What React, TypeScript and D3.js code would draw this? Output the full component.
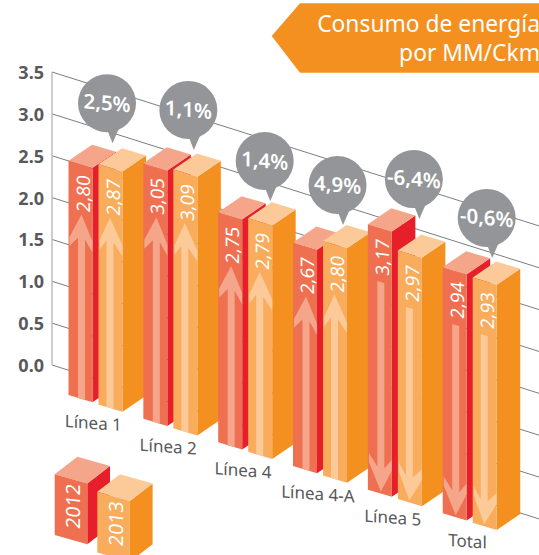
import React from 'react';
import * as d3 from 'd3';

const categories = ['Línea 1', 'Línea 2', 'Línea 4', 'Línea 4-A', 'Línea 5', 'Total'];
const values2012 = [2.8, 3.05, 2.75, 2.67, 3.17, 2.94];
const values2013 = [2.87, 3.09, 2.79, 2.8, 2.97, 2.93];
const changes = ['2,5%', '1,1%', '1,4%', '4,9%', '-6,4%', '-0,6%'];
const tickValues = [0, 0.5, 1, 1.5, 2, 2.5, 3, 3.5];
const years = ['2012', '2013'];

// small hand nudges so the callouts sit where the original has them
const bubbleDx = [-6.5, 0, 1.5, -0.5, 1, -1];
const bubbleDy = [0, 1.4, 3.7, 5, -10.4, 1.4];

const width = 539;
const height = 555;
const slope = 0.316; // the floor runs downhill to the right
const faceWidth = 24;
const faceSkew = 0.3;
const textSkew = 0.12;
const side = { dx: 23.5, dy: -16 };

const palette = [
  { front: '#ee7051', top: '#f4a58a', side: '#e61f2b', arrowX: 13 },
  { front: '#f8ac5c', top: '#fbca98', side: '#f39020', arrowX: 11.5 },
];
const textGrey = '#58595b';
const font = '"Noto Sans", sans-serif';

const xGroup = d3.scalePoint<string>().domain(categories).range([68.5, 442.7]);
const xSeries = d3.scalePoint<string>().domain(years).range([0, 30]);
const yAxis = d3.scaleLinear().domain([0, 3.5]).range([365, 72]);
const barHeight = (v: number) => yAxis(0) - yAxis(v);
const floorY = (x: number) => 373.4 + slope * x;

const poly = d3.line();

type BoxProps = {
  x: number;
  bottom: number;
  h: number;
  w: number;
  skew: number;
  sx: number;
  sy: number;
  colors: (typeof palette)[number];
};

function Box({ x, bottom, h, w, skew, sx, sy, colors }: BoxProps) {
  const t = bottom - h;
  const dy = w * skew;
  return (
    <g>
      <path
        fill={colors.side}
        d={poly([[x + w, t + dy], [x + w + sx, t + dy + sy], [x + w + sx, bottom + dy + sy], [x + w, bottom + dy]]) + 'Z'}
      />
      <path
        fill={colors.top}
        d={poly([[x, t], [x + w, t + dy], [x + w + sx, t + dy + sy], [x + sx, t + sy]]) + 'Z'}
      />
      <path
        fill={colors.front}
        d={poly([[x, t], [x + w, t + dy], [x + w, bottom + dy], [x, bottom]]) + 'Z'}
      />
    </g>
  );
}

// arrow is drawn in the skewed coordinates of the bar's front face
function arrowPath(h: number, up: boolean, c: number) {
  const start = 50;
  const half = 3.5;
  if (up) {
    return (
      poly([
        [c, start],
        [faceWidth, start + 24],
        [faceWidth, start + 35],
        [c + half, start + 24],
        [c + half, h],
        [c - half, h],
        [c - half, start + 24],
        [1, start + 35],
        [1, start + 26],
      ]) + 'Z'
    );
  }
  const tip = h - 2;
  return (
    poly([
      [c - half, start + 4],
      [c + half, start + 4],
      [c + half, tip - 24],
      [faceWidth, tip - 35],
      [faceWidth, tip - 24],
      [c, tip],
      [1, tip - 26],
      [1, tip - 35],
      [c - half, tip - 24],
    ]) + 'Z'
  );
}

function Bar({ cat, i, si }: { cat: string; i: number; si: number }) {
  const v = (si === 0 ? values2012 : values2013)[i];
  const x = xGroup(cat)! + xSeries(years[si])!;
  const bottom = floorY(x);
  const h = barHeight(v);
  const colors = palette[si];
  const up = !changes[i].startsWith('-');
  return (
    <g>
      <Box x={x} bottom={bottom} h={h} w={faceWidth} skew={faceSkew} sx={side.dx} sy={side.dy} colors={colors} />
      <g transform={`matrix(1,${faceSkew},0,1,${x},${bottom - h})`}>
        <path d={arrowPath(h, up, colors.arrowX)} fill={colors.top} />
      </g>
      <text
        transform={`matrix(0,-1,1,${textSkew},${x + 21},${bottom - h + 52})`}
        fill="#fff"
        fontFamily={font}
        fontSize={18.5}
      >
        {v.toFixed(2).replace('.', ',')}
      </text>
    </g>
  );
}

function Bubble({ i }: { i: number }) {
  const x0 = xGroup(categories[i])!;
  const x2013 = x0 + xSeries(years[1])!;
  const top = floorY(x2013) - barHeight(values2013[i]);
  const tipY = top - 21 + bubbleDy[i];
  const cx = x0 + 45 + bubbleDx[i];
  const cy = tipY - 40;
  const r = 29;
  return (
    <g>
      <circle cx={cx} cy={cy} r={r} fill="#939598" />
      <path d={poly([[cx, cy + 26], [cx + 5.5, cy + 40], [cx + 12, cy + 25]]) + 'Z'} fill="#939598" />
      <text
        transform={`matrix(1,0.09,0,1,${cx},${cy + 7})`}
        textAnchor="middle"
        fill="#fff"
        fontFamily={font}
        fontWeight={600}
        fontSize={20.5}
      >
        {changes[i]}
      </text>
    </g>
  );
}

function Legend() {
  const w = 32.6;
  const h = 60.7;
  const spots = [
    { x: 54.7, top: 474.3 },
    { x: 97.3, top: 491.7 },
  ];
  return (
    <g>
      {spots.map((s, i) => (
        <g key={years[i]}>
          <Box x={s.x} bottom={s.top + h} h={h} w={w} skew={0.285} sx={22.7} sy={-17.5} colors={palette[i]} />
          <text
            transform={`matrix(0,-1,1,${textSkew},${s.x + 25.5},${s.top + 55})`}
            fill="#fff"
            fontFamily={font}
            fontSize={19.5}
          >
            {years[i]}
          </text>
        </g>
      ))}
    </g>
  );
}

export default function App() {
  return (
    <svg width={width} height={height} style={{ position: 'absolute', left: 0, top: 0, background: '#fff' }}>
      {/* axis and sloped grid */}
      {tickValues.map(t => (
        <g key={t}>
          <line
            x1={52}
            x2={width}
            y1={yAxis(t)}
            y2={yAxis(t) + slope * (width - 52)}
            stroke="#6d6e71"
            strokeWidth={0.9}
          />
          <text
            x={44}
            y={yAxis(t) + 7}
            textAnchor="end"
            fill={textGrey}
            fontFamily={font}
            fontWeight={700}
            fontSize={18}
          >
            {t.toFixed(1)}
          </text>
        </g>
      ))}
      <line x1={52} x2={52} y1={yAxis(3.5)} y2={yAxis(0)} stroke="#bcbec0" strokeWidth={1.5} />

      {/* bars, back to front */}
      {categories.map((c, i) => (
        <g key={c}>
          <Bar cat={c} i={i} si={0} />
          <Bar cat={c} i={i} si={1} />
        </g>
      ))}

      {changes.map((c, i) => (
        <Bubble key={c} i={i} />
      ))}

      {categories.map(c => {
        const x = xGroup(c)!;
        return (
          <text
            key={c}
            transform={`matrix(1,0.07,0,1,${x + 24.8},${floorY(x) + 34})`}
            textAnchor="middle"
            fill={textGrey}
            fontFamily={font}
            fontSize={17}
          >
            {c}
          </text>
        );
      })}

      <Legend />

      {/* title banner */}
      <path d={poly([[271.7, 36], [300, 3.3], [width, 3.3], [width, 72.7], [300, 72.7]]) + 'Z'} fill="#f39020" />
      <g fill="#fff" fontFamily={font} fontSize={22.8} textAnchor="end">
        <text x={540} y={31.5}>Consumo de energía</text>
        <text x={540} y={61}>por MM/Ckm</text>
      </g>
    </svg>
  );
}
